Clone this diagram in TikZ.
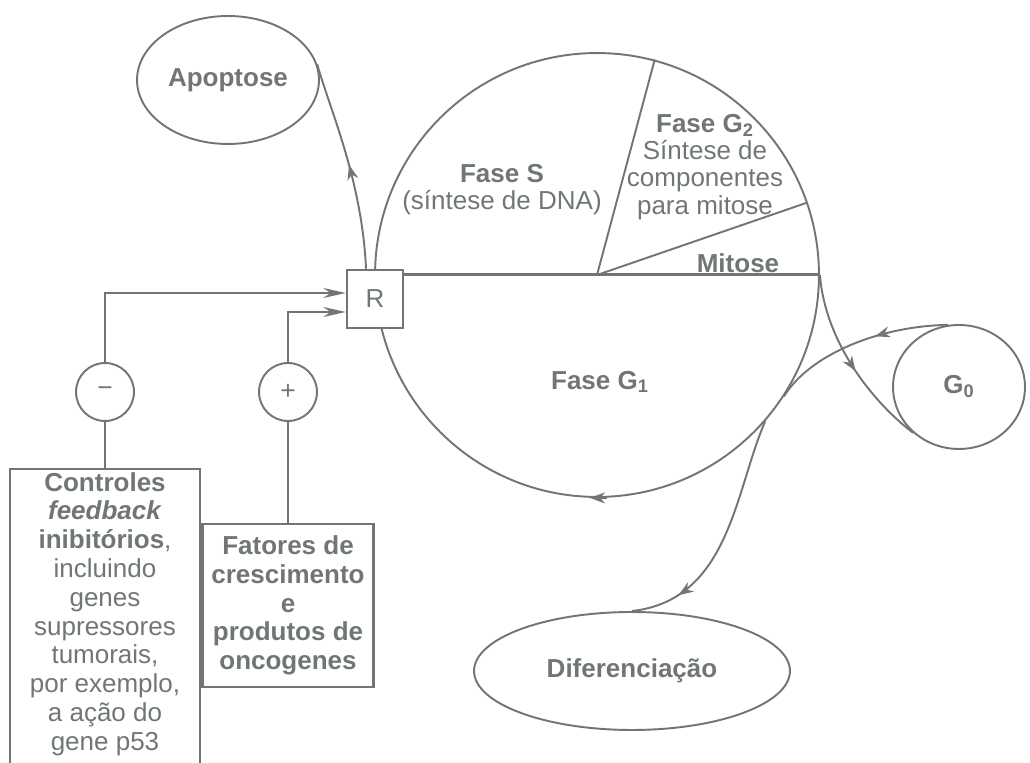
\documentclass[tikz,border=0pt]{standalone}
\usepackage{fontspec}
\setmainfont{Liberation Sans}
\usetikzlibrary{arrows.meta,decorations.markings,shapes.geometric}
\definecolor{inkgray}{RGB}{112,118,118}
\newcommand\figfont{\fontsize{14.8pt}{16.4pt}\selectfont}
\tikzset{
  phase ring/.style={circle,draw,line width=1.1pt,minimum size=8.88cm,inner sep=0pt},
  check box/.style={rectangle,draw,fill=white,line width=1.4pt,minimum width=1.12cm,minimum height=1.16cm,inner sep=0pt},
  state oval/.style={ellipse,draw,line width=1.1pt,inner sep=0pt,font=\figfont\bfseries},
  sign node/.style={circle,draw,line width=1.1pt,minimum size=1.16cm,inner sep=0pt,font=\fontsize{15pt}{17pt}\selectfont},
  info box/.style={rectangle,draw,line width=1.4pt,align=center,inner sep=0.06cm},
  phase label/.style={align=center,font=\fontsize{14.8pt}{15.5pt}\selectfont},
  cycle edge/.style={line width=1.1pt},
  input edge/.style={line width=1.1pt,-{Stealth[length=4.5mm,width=2mm]}},
  mid arrow/.style={postaction={decorate},decoration={markings,mark=at position #1 with {\arrow{Stealth[length=3mm,width=2.2mm]}}}},
}

\begin{document}
\begin{tikzpicture}[x=0.02cm,y=0.02cm,inkgray,text=inkgray,font=\figfont]
  \useasboundingbox (0,0) rectangle (1030,763);
  % cell cycle
  \node[phase ring] (cycle) at (597,488) {};
  \draw[cycle edge] (cycle.center) -- (cycle.75);
  \draw[cycle edge] (cycle.center) -- (cycle.19.5);
  \node[check box] (R) at (375,464) {R};
  \draw[line width=1.7pt] (R.east |- cycle.center) -- (cycle.east);
  \node[phase label] (sLabel) at (502,573) {\textbf{Fase S}\\(síntese de DNA)};
  \node[phase label] (g2Label) at (705,596) {\textbf{Fase G\textsubscript{2}}\\Síntese de\\componentes\\para mitose};
  \node[phase label] (mLabel) at (738,500) {\textbf{Mitose}};
  \node[phase label] (g1Label) at (600,381) {\textbf{Fase G\textsubscript{1}}};
  \draw[cycle edge,-{Stealth[length=3mm,width=2.2mm]}] ([xshift=0.2cm]cycle.south) -- ([xshift=-0.14cm]cycle.south);
  % exits
  \node[state oval,minimum width=3.64cm,minimum height=2.56cm] (apop) at (228,683) {Apoptose};
  \node[state oval,minimum width=2.64cm,minimum height=2.48cm] (g0) at (959,376) {G\textsubscript{0}};
  \node[state oval,minimum width=6.32cm,minimum height=2.36cm] (dif) at (632,92) {Diferenciação};
  \draw[cycle edge,mid arrow=0.5] ([xshift=-0.18cm]R.north) .. controls (362,583) and (330,653) .. (apop.10);
  \draw[cycle edge,mid arrow=0.55] (cycle.east) .. controls (825,423) and (870,363) .. (g0.225);
  \draw[cycle edge,mid arrow=0.4] (g0.100) .. controls (880,437) and (810,409) .. (cycle.327);
  \draw[cycle edge,mid arrow=0.8] (cycle.319) .. controls (735,273) and (730,163) .. (dif.north);
  % controls on R
  \node[sign node] (minus) at (105,371) {−};
  \node[sign node] (plus) at (288,371) {+};
  \node[info box,anchor=north,minimum width=3.8cm,text depth=0.4cm] (ctrl) at (105,295)
    {\textbf{Controles}\\\textbf{\textit{feedback}}\\\textbf{inibitórios},\\incluindo\\genes\\supressores\\tumorais,\\por exemplo,\\a ação do\\gene p53};
  \node[info box,font=\figfont\bfseries,minimum width=3.42cm,minimum height=3.26cm] (fat) at (288,157.5)
    {Fatores de\\crescimento\\e\\produtos de\\oncogenes};
  \draw[cycle edge] (ctrl.north) -- (minus.south);
  \draw[cycle edge] (fat.north) -- (plus.south);
  \draw[input edge] (minus.north) |- ([yshift=0.12cm]R.west);
  \draw[input edge] (plus.north) |- ([yshift=-0.26cm]R.west);
\end{tikzpicture}
\end{document}
